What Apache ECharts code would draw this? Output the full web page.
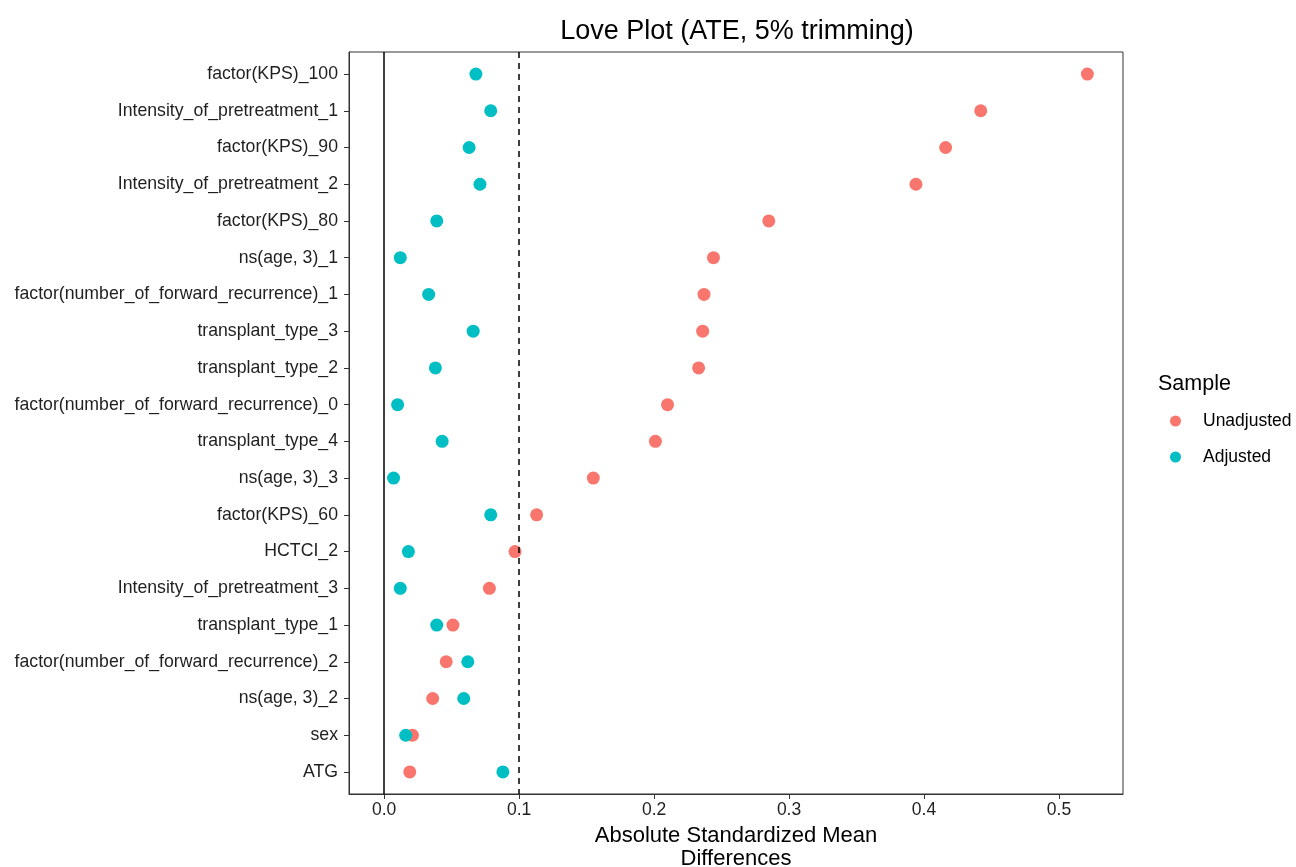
<!DOCTYPE html>
<html>
<head>
<meta charset="utf-8">
<script src="https://cdn.jsdelivr.net/npm/echarts@6/dist/echarts.min.js"></script>
<style>
  html, body { margin: 0; padding: 0; background: #fff; }
  #chart { width: 1296px; height: 867px; }
</style>
</head>
<body>
<div id="chart"></div>
<script>
// covariates, top to bottom
const covariates = [
  'factor(KPS)_100',
  'Intensity_of_pretreatment_1',
  'factor(KPS)_90',
  'Intensity_of_pretreatment_2',
  'factor(KPS)_80',
  'ns(age, 3)_1',
  'factor(number_of_forward_recurrence)_1',
  'transplant_type_3',
  'transplant_type_2',
  'factor(number_of_forward_recurrence)_0',
  'transplant_type_4',
  'ns(age, 3)_3',
  'factor(KPS)_60',
  'HCTCI_2',
  'Intensity_of_pretreatment_3',
  'transplant_type_1',
  'factor(number_of_forward_recurrence)_2',
  'ns(age, 3)_2',
  'sex',
  'ATG'
]

const unadjusted = [0.521, 0.442, 0.416, 0.394, 0.285, 0.244, 0.237, 0.236, 0.233, 0.210,
  0.201, 0.155, 0.113, 0.097, 0.078, 0.051, 0.046, 0.036, 0.021, 0.019]

const adjusted = [0.068, 0.079, 0.063, 0.071, 0.039, 0.012, 0.033, 0.066, 0.038, 0.010,
  0.043, 0.007, 0.079, 0.018, 0.012, 0.039, 0.062, 0.059, 0.016, 0.088]

const xTicks = [0, 0.1, 0.2, 0.3, 0.4, 0.5]

const toPoints = (vals) => vals.map((v, i) => [v, i])
const rowIdx = covariates.map((c, i) => i)

const myChart = echarts.init(document.getElementById('chart'))

const textDark = '#1f1f1f'
const fontFam = '"Liberation Sans", Arial, sans-serif'

const option = {
  animation: false,
  backgroundColor: '#fff',
  textStyle: { fontFamily: fontFam },
  title: [
    {
      text: 'Love Plot (ATE, 5% trimming)',
      left: 732,
      top: 13,
      textAlign: 'center',
      textStyle: { fontSize: 27, fontWeight: 'normal', color: '#000', fontFamily: fontFam }
    },
    {
      text: 'Sample',
      left: 1153,
      top: 368,
      textStyle: { fontSize: 21.5, fontWeight: 'normal', color: '#000', fontFamily: fontFam }
    }
  ],
  legend: {
    orient: 'vertical',
    left: 1170,
    top: 411,
    padding: 0,
    itemGap: 16,
    itemWidth: 11,
    itemHeight: 11,
    icon: 'circle',
    textStyle: { fontSize: 17.5, lineHeight: 20, color: '#000', fontFamily: fontFam, padding: [0, 0, 0, 17] },
    data: ['Unadjusted', 'Adjusted']
  },
  grid: {
    left: 349,
    right: 173,
    top: 52,
    bottom: 73,
    outerBoundsMode: 'none',
    containLabel: false,
    show: true,
    borderColor: '#333',
    borderWidth: 1
  },
  xAxis: {
    type: 'value',
    min: -0.026,
    max: 0.5474,
    name: 'Absolute Standardized Mean\nDifferences',
    nameLocation: 'middle',
    nameGap: 30,
    nameTextStyle: { fontSize: 22, color: '#000', lineHeight: 23, verticalAlign: 'top' },
    axisLine: { show: true, onZero: false, lineStyle: { color: '#333' } },
    axisTick: { show: true, customValues: xTicks, length: 5, lineStyle: { color: '#333' } },
    axisLabel: {
      customValues: xTicks,
      color: textDark,
      fontSize: 17.5,
      margin: 7,
      formatter: (v) => v.toFixed(1)
    },
    splitLine: { show: false }
  },
  yAxis: {
    type: 'value',
    inverse: true,
    min: -0.6,
    max: 19.6,
    axisLine: { show: true, onZero: false, lineStyle: { color: '#333' } },
    axisTick: { show: true, customValues: rowIdx, length: 5, lineStyle: { color: '#333' } },
    axisLabel: {
      customValues: rowIdx,
      color: textDark,
      fontSize: 17.7,
      margin: 11,
      formatter: (v) => covariates[Math.round(v)]
    },
    splitLine: { show: false }
  },
  series: [
    {
      name: 'Unadjusted',
      type: 'scatter',
      symbolSize: 13,
      itemStyle: { color: '#F8766D', opacity: 1 },
      data: toPoints(unadjusted),
      markLine: {
        silent: true,
        symbol: 'none',
        label: { show: false },
        data: [
          { xAxis: 0, lineStyle: { color: '#000', type: 'solid', width: 1.5 } },
          { xAxis: 0.1, lineStyle: { color: '#000', type: [6, 5], width: 1.5 } }
        ]
      },
      z: 2
    },
    {
      name: 'Adjusted',
      type: 'scatter',
      symbolSize: 13,
      itemStyle: { color: '#00BFC4', opacity: 1 },
      data: toPoints(adjusted),
      z: 3
    }
  ]
}

myChart.setOption(option)
</script>
</body>
</html>
